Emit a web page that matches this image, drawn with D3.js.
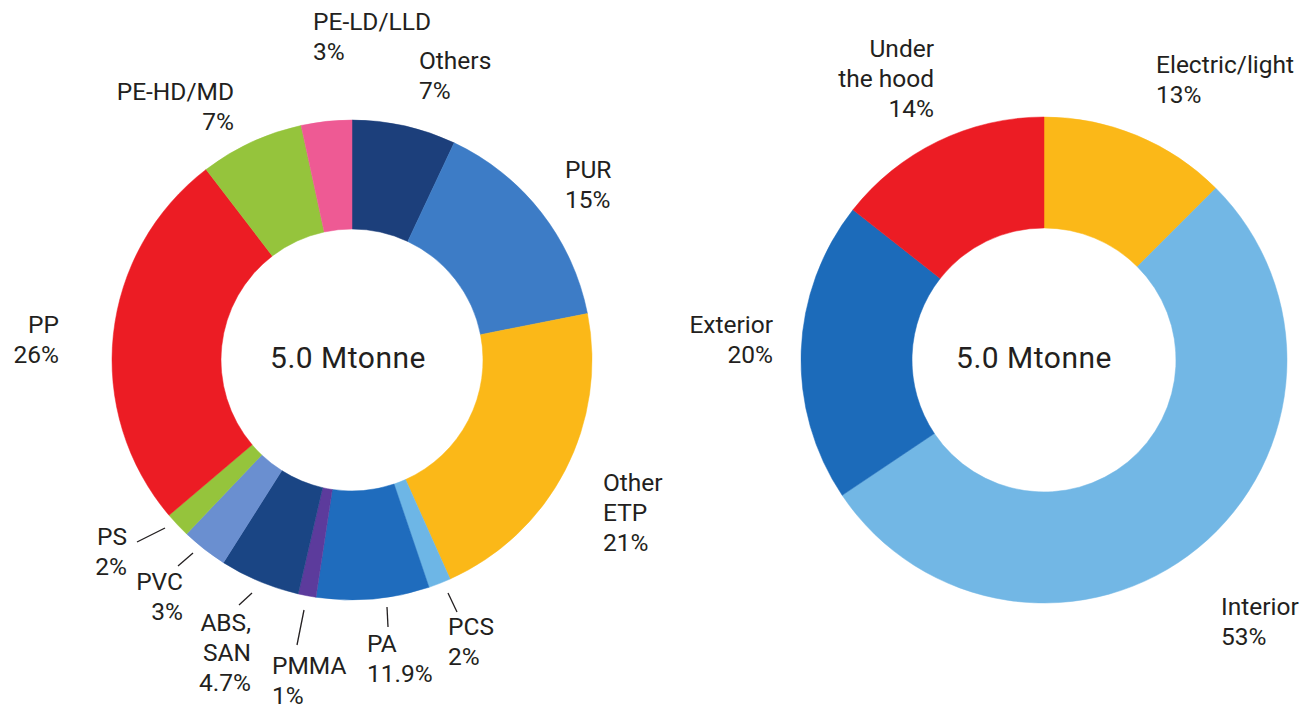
<!DOCTYPE html>
<html>
<head>
<meta charset="utf-8">
<script src="https://cdn.jsdelivr.net/npm/d3@7"></script>
<style>
  html, body { margin: 0; padding: 0; background: #ffffff; }
  svg { display: block; }
  text { font-family: Roboto, "Noto Sans", sans-serif; fill: #231f20; }
</style>
</head>
<body>
<svg id="chart" width="1312" height="709"></svg>
<script>
// ---- Data: left donut (materials) ----
const matNames = ["Others", "PUR", "Other ETP", "PCS", "PA", "PMMA", "ABS, SAN", "PVC", "PS", "PP", "PE-HD/MD", "PE-LD/LLD"];
const matShares = [7.0, 14.9, 21.4, 1.5, 7.6, 1.2, 5.4, 3.1, 1.7, 25.8, 7.0, 3.4]; // slice sizes as drawn
const matLabels = ["7%", "15%", "21%", "2%", "11.9%", "1%", "4.7%", "3%", "2%", "26%", "7%", "3%"];
const matColors = ["#1c3f7b", "#3d7cc6", "#fbb818", "#6db6e6", "#1f6cbd", "#5c3b9c", "#1a4584", "#6a8fd0", "#95c43c", "#ec1c24", "#95c43c", "#ee5a94"];

// ---- Data: right donut (application) ----
const appNames = ["Electric/light", "Interior", "Exterior", "Under the hood"];
const appShares = [12.5, 53.1, 20.0, 14.4];
const appLabels = ["13%", "53%", "20%", "14%"];
const appColors = ["#fbb818", "#72b7e5", "#1c6bba", "#ec1c24"];

const centerText = "5.0 Mtonne";

// ---- Layout (positions of text blocks) ----
const matLayout = [
  {lines: ["Others"], x: 419, y: 69, anchor: "start"},
  {lines: ["PUR"], x: 565, y: 178, anchor: "start"},
  {lines: ["Other", "ETP"], x: 603, y: 491, anchor: "start"},
  {lines: ["PCS"], x: 448, y: 635, anchor: "start"},
  {lines: ["PA"], x: 367, y: 652, anchor: "start"},
  {lines: ["PMMA"], x: 272, y: 674, anchor: "start"},
  {lines: ["ABS,", "SAN"], x: 251, y: 631, anchor: "end"},
  {lines: ["PVC"], x: 183, y: 590, anchor: "end"},
  {lines: ["PS"], x: 127, y: 545, anchor: "end"},
  {lines: ["PP"], x: 59, y: 333, anchor: "end"},
  {lines: ["PE-HD/MD"], x: 234, y: 100, anchor: "end"},
  {lines: ["PE-LD/LLD"], x: 313, y: 30, anchor: "start"}
];
const matLeaders = {
  "PCS": [[448, 593], [457, 612]],
  "PA": [[387, 607], [388, 627]],
  "PMMA": [[304, 610], [297, 645]],
  "ABS, SAN": [[252, 593], [239, 605]],
  "PVC": [[193, 553], [178, 566]],
  "PS": [[165, 528], [137, 542]]
};
const appLayout = [
  {lines: ["Electric/light"], x: 1156, y: 73, anchor: "start"},
  {lines: ["Interior"], x: 1221, y: 615, anchor: "start"},
  {lines: ["Exterior"], x: 773, y: 333, anchor: "end"},
  {lines: ["Under", "the hood"], x: 934, y: 57, anchor: "end"}
];

const svg = d3.select("#chart");
const lineH = 30;

function donut(cx, cy, rOuter, rInner, names, shares, pctLabels, colors, layout, leaders, textDx) {
  const g = svg.append("g").attr("transform", `translate(${cx},${cy})`);
  const pie = d3.pie().sort(null).value(d => d.v);
  const data = names.map((n, i) => ({name: n, v: shares[i], color: colors[i]}));
  const arc = d3.arc().innerRadius(rInner).outerRadius(rOuter);
  g.selectAll("path").data(pie(data)).join("path")
    .attr("d", arc)
    .attr("fill", d => d.data.color)
    .attr("stroke", d => d.data.color)
    .attr("stroke-width", 0.5);
  g.append("text")
    .attr("x", textDx).attr("y", 8)
    .attr("text-anchor", "middle")
    .attr("font-size", 30)
    .attr("letter-spacing", 0.5)
    .text(centerText);

  // labels: name lines followed by the percentage label
  layout.forEach((l, i) => {
    const t = svg.append("text")
      .attr("text-anchor", l.anchor)
      .attr("font-size", 24.5);
    const lines = l.lines.concat([pctLabels[i]]);
    lines.forEach((ln, j) => {
      t.append("tspan").attr("x", l.x).attr("y", l.y + j * lineH).text(ln);
    });
  });
  // leader lines
  Object.keys(leaders).forEach(k => {
    const p = leaders[k];
    svg.append("line")
      .attr("x1", p[0][0]).attr("y1", p[0][1])
      .attr("x2", p[1][0]).attr("y2", p[1][1])
      .attr("stroke", "#231f20").attr("stroke-width", 1.3);
  });
}

donut(352, 360, 240, 131, matNames, matShares, matLabels, matColors, matLayout, matLeaders, -4);
donut(1044, 360, 243, 132, appNames, appShares, appLabels, appColors, appLayout, {}, -10);
</script>
</body>
</html>
